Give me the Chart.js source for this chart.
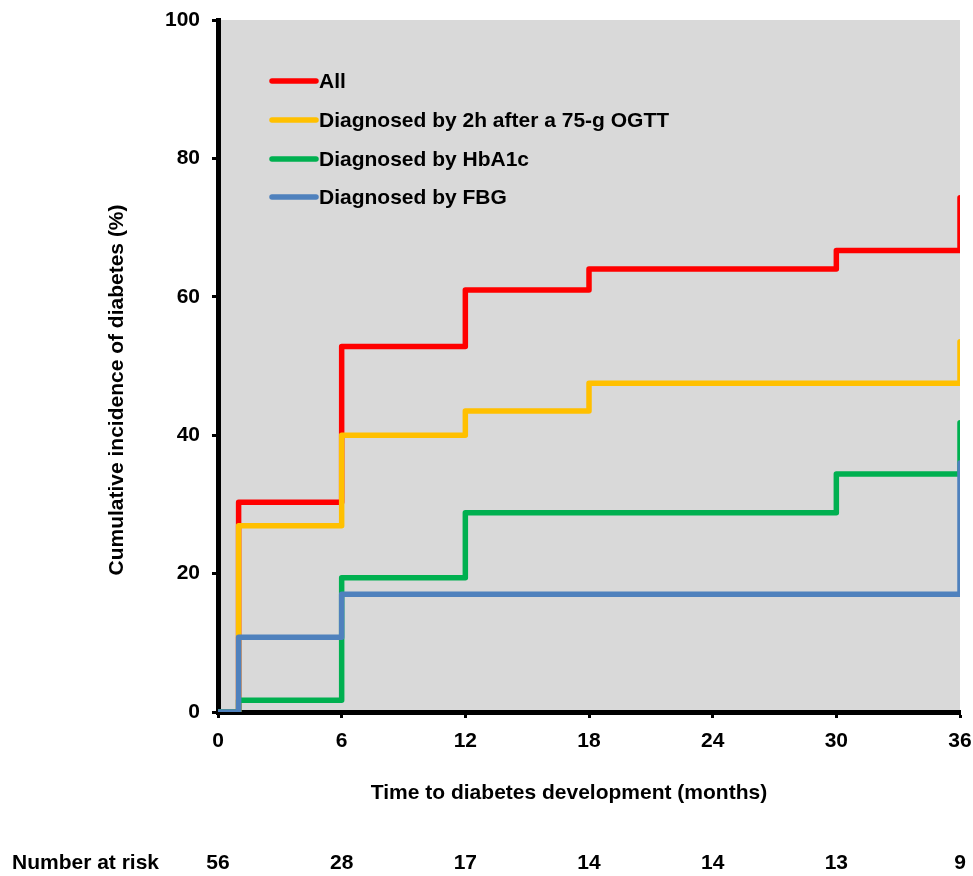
<!DOCTYPE html>
<html>
<head>
<meta charset="utf-8">
<title>Cumulative incidence of diabetes</title>
<script src="https://cdn.jsdelivr.net/npm/chart.js@4.4.0/dist/chart.umd.js"></script>
<style>
    body { margin: 0; background: #fff; }
    #wrap { width: 973px; height: 876px; position: relative; }
</style>
</head>
<body>
<div id="wrap"><canvas id="kmChart"></canvas></div>
<script>
// Step data (months, %)
const allMonths = [0, 1, 6, 12, 18, 30, 36, 36];
const allPct = [0, 30.3, 52.8, 61.0, 64.0, 66.7, 66.7, 74.3];

const ogttMonths = [0, 1, 6, 12, 18, 36, 36];
const ogttPct = [0, 26.9, 40.0, 43.5, 47.5, 47.5, 53.5];

const hba1cMonths = [0, 1, 6, 12, 30, 36, 36];
const hba1cPct = [0, 1.7, 19.4, 28.8, 34.4, 34.4, 41.8];

const fbgMonths = [0, 1, 6, 36, 36];
const fbgPct = [0, 10.8, 17.0, 17.0, 36.0];

const seriesLabels = ['All', 'Diagnosed by 2h after a 75-g OGTT', 'Diagnosed by HbA1c', 'Diagnosed by FBG'];
const seriesColors = ['#ff0000', '#ffc000', '#00b050', '#4f81bd'];

// Number at risk table
const riskMonths = [0, 6, 12, 18, 24, 30, 36];
const riskCounts = [56, 28, 17, 14, 14, 13, 9];

const FONT = 'bold 21px "Liberation Sans", Arial, sans-serif';

function toPoints(xs, ys) {
    return xs.map((x, i) => ({ x: x, y: ys[i] }));
}

function makeDataset(idx, xs, ys) {
    return {
        label: seriesLabels[idx],
        data: toPoints(xs, ys),
        borderColor: seriesColors[idx],
        backgroundColor: seriesColors[idx],
        borderWidth: 5.5,
        stepped: 'before',
        pointRadius: 0,
        fill: false,
        borderCapStyle: 'round',
        borderJoinStyle: 'round',
        order: 4 - idx
    };
}

// gray plot area, legend, titles and risk table
const extrasPlugin = {
    id: 'extras',
    beforeDraw(chart) {
        const { ctx, chartArea } = chart;
        ctx.save();
        ctx.fillStyle = '#d9d9d9';
        ctx.fillRect(chartArea.left, chartArea.top, chartArea.right - chartArea.left, chartArea.bottom - chartArea.top);
        ctx.restore();
    },
    afterDraw(chart) {
        const { ctx } = chart;
        const xScale = chart.scales.x;
        ctx.save();
        ctx.font = FONT;
        ctx.fillStyle = '#000';

        // legend inside plot
        const legendY = [81, 120, 159, 197];
        seriesLabels.forEach((label, i) => {
            ctx.strokeStyle = seriesColors[i];
            ctx.lineWidth = 5.5;
            ctx.lineCap = 'round';
            ctx.beginPath();
            ctx.moveTo(272, legendY[i]);
            ctx.lineTo(316, legendY[i]);
            ctx.stroke();
            ctx.textAlign = 'left';
            ctx.textBaseline = 'middle';
            ctx.fillText(label, 319, legendY[i] + 1);
        });

        // x axis title
        ctx.textAlign = 'center';
        ctx.textBaseline = 'middle';
        ctx.fillText('Time to diabetes development (months)', 569, 793);

        // y axis title
        ctx.save();
        ctx.translate(117, 390);
        ctx.rotate(-Math.PI / 2);
        ctx.fillText('Cumulative incidence of diabetes (%)', 0, 0);
        ctx.restore();

        // number at risk
        ctx.textAlign = 'left';
        ctx.fillText('Number at risk', 12, 863);
        ctx.textAlign = 'center';
        riskMonths.forEach((m, i) => {
            ctx.fillText(String(riskCounts[i]), xScale.getPixelForValue(m), 863);
        });
        ctx.restore();
    }
};

const ctx = document.getElementById('kmChart');
new Chart(ctx, {
    type: 'line',
    data: {
        datasets: [
            makeDataset(0, allMonths, allPct),
            makeDataset(1, ogttMonths, ogttPct),
            makeDataset(2, hba1cMonths, hba1cPct),
            makeDataset(3, fbgMonths, fbgPct)
        ]
    },
    options: {
        responsive: true,
        maintainAspectRatio: false,
        animation: false,
        layout: {
            padding: { top: 20, right: 13, left: 0, bottom: 0 }
        },
        plugins: {
            legend: { display: false },
            tooltip: { enabled: false }
        },
        scales: {
            x: {
                type: 'linear',
                min: 0,
                max: 36,
                afterFit(scale) {
                    scale.height = 164;
                    scale.paddingLeft = 0;
                    scale.paddingRight = 0;
                },
                border: { color: '#000', width: 5 },
                grid: {
                    drawOnChartArea: false,
                    drawTicks: true,
                    tickLength: 6,
                    tickWidth: 3,
                    tickColor: '#000'
                },
                ticks: {
                    stepSize: 6,
                    color: '#000',
                    padding: 11,
                    maxRotation: 0,
                    font: { family: '"Liberation Sans", Arial, sans-serif', size: 21, weight: 'bold' }
                }
            },
            y: {
                type: 'linear',
                min: 0,
                max: 100,
                afterFit(scale) {
                    scale.width = 218;
                    scale.paddingTop = 0;
                    scale.paddingBottom = 0;
                },
                border: { color: '#000', width: 5 },
                grid: {
                    drawOnChartArea: false,
                    drawTicks: true,
                    tickLength: 6,
                    tickWidth: 3,
                    tickColor: '#000'
                },
                ticks: {
                    stepSize: 20,
                    color: '#000',
                    padding: 12,
                    font: { family: '"Liberation Sans", Arial, sans-serif', size: 21, weight: 'bold' }
                }
            }
        }
    },
    plugins: [extrasPlugin]
});
</script>
</body>
</html>
